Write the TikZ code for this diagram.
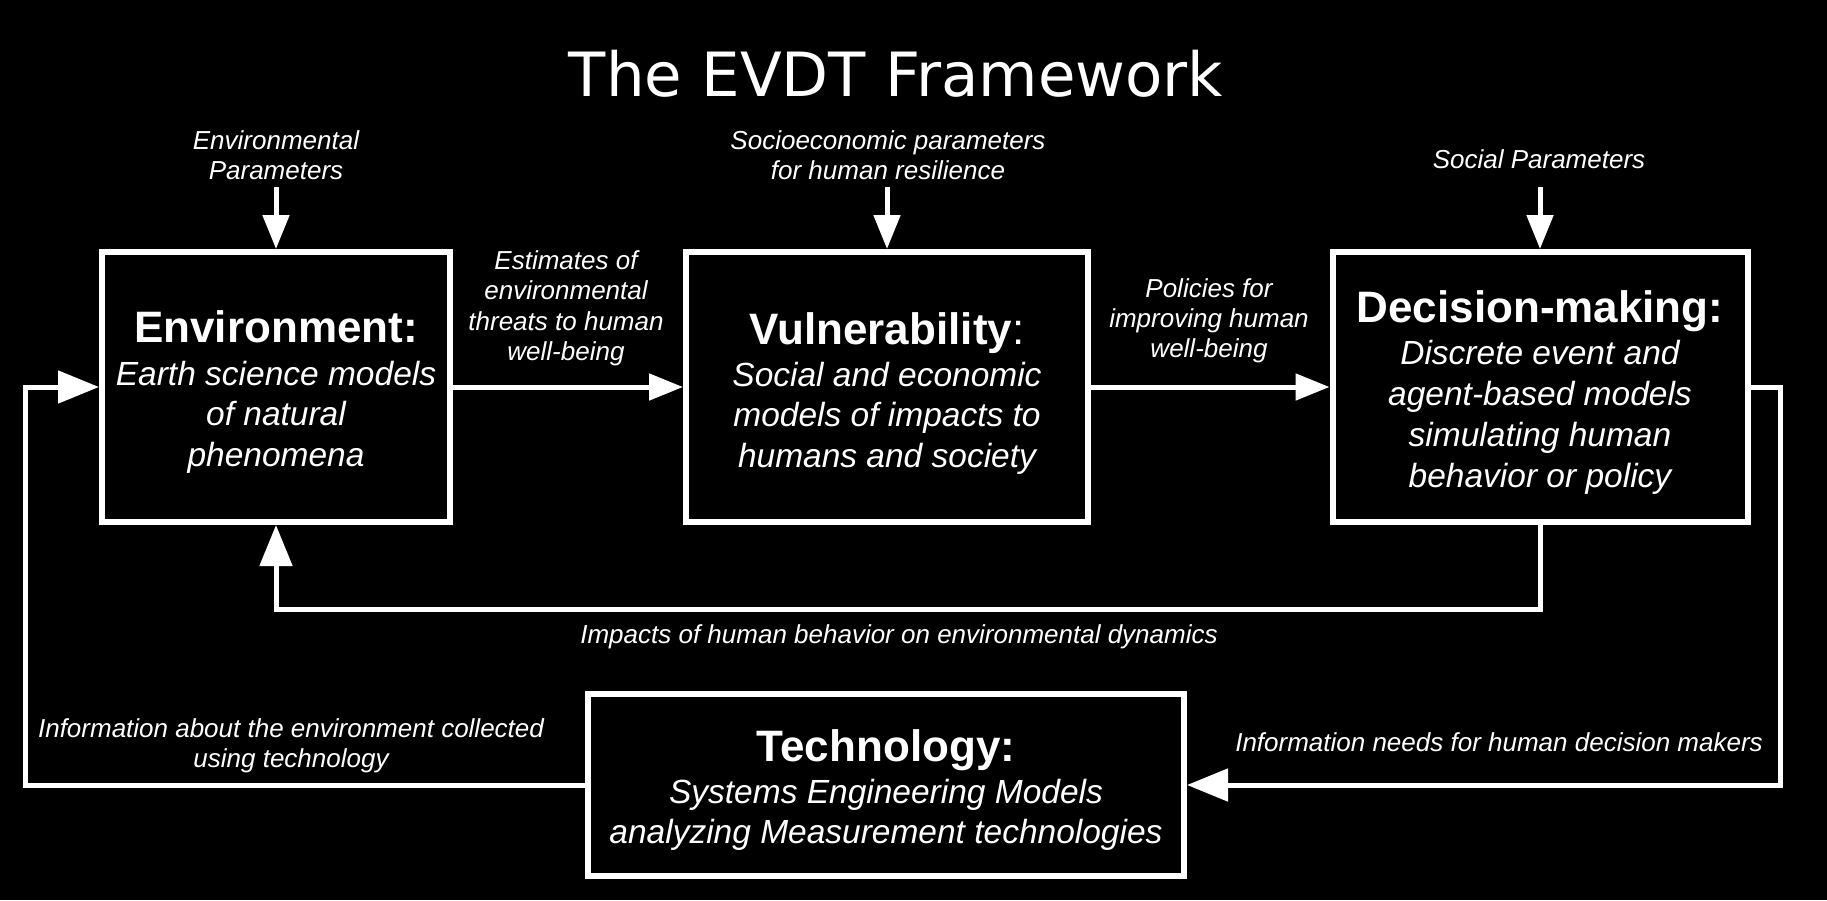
\documentclass[tikz,border=0pt]{standalone}
\usepackage{fontspec}
\setmainfont{Liberation Sans}
\newfontfamily\titlefont{DejaVu Sans}
\usetikzlibrary{arrows.meta}
\begin{document}
\begin{tikzpicture}[x=1pt,y=-1pt,
  box/.style={draw=white, line width=6pt, fill=black, inner sep=0pt},
  lbl/.style={text=white, font=\fontsize{26}{30}\selectfont\itshape, anchor=base, inner sep=0pt},
  body/.style={text=white, font=\fontsize{33.5}{40}\selectfont\itshape, anchor=base, inner sep=0pt},
  head/.style={text=white, font=\fontsize{44}{50}\selectfont\bfseries, anchor=base, inner sep=0pt},
  conn/.style={draw=white, line width=5pt},
  smallhead/.style={-{Triangle[length=34pt,width=26pt]}},
  bighead/.style={-{Triangle[length=41pt,width=32pt]}}
]
\fill[black] (0,0) rectangle (1827,900);
\useasboundingbox (0,0) rectangle (1827,900);

% title
\node[text=white, font=\titlefont\fontsize{61}{70}\selectfont, anchor=base, inner sep=0pt] (title) at (896,96) {The EVDT Framework};

% boxes
\node[box, minimum width=348pt, minimum height=270pt] (env) at (276,387) {};
\node[box, minimum width=402pt, minimum height=270pt] (vul) at (887,387) {};
\node[box, minimum width=415pt, minimum height=270pt] (dec) at (1540,387) {};
\node[box, minimum width=596pt, minimum height=182pt] (tech) at (886,785) {};

% box texts
\node[head] (envH) at (276,342) {Environment:};
\node[body] (envB1) at (276,385) {Earth science models};
\node[body] (envB2) at (276,425.5) {of natural};
\node[body] (envB3) at (276,466) {phenomena};

\node[head] (vulH) at (887,344) {Vulnerability{\mdseries:}};
\node[body] (vulB1) at (887,386) {Social and economic};
\node[body] (vulB2) at (887,426.5) {models of impacts to};
\node[body] (vulB3) at (887,467) {humans and society};

\node[head] (decH) at (1540,322) {Decision-making:};
\node[body] (decB1) at (1540,364.5) {Discrete event and};
\node[body] (decB2) at (1540,405.5) {agent-based models};
\node[body] (decB3) at (1540,446.5) {simulating human};
\node[body] (decB4) at (1540,487) {behavior or policy};

\node[head] (techH) at (886,761) {Technology:};
\node[body] (techB1) at (886,803) {Systems Engineering Models};
\node[body] (techB2) at (886,843) {analyzing Measurement technologies};

% labels
\node[lbl] (ep1) at (276,149) {Environmental};
\node[lbl] (ep2) at (276,179) {Parameters};
\node[lbl] (sp1) at (888,149) {Socioeconomic parameters};
\node[lbl] (sp2) at (888,179) {for human resilience};
\node[lbl] (socp) at (1539,168) {Social Parameters};
\node[lbl] (es1) at (566,269) {Estimates of};
\node[lbl] (es2) at (566,299.5) {environmental};
\node[lbl] (es3) at (566,330) {threats to human};
\node[lbl] (es4) at (566,360.5) {well-being};
\node[lbl] (po1) at (1209,297) {Policies for};
\node[lbl] (po2) at (1209,327) {improving human};
\node[lbl] (po3) at (1209,357) {well-being};
\node[lbl] (imp) at (899,643) {Impacts of human behavior on environmental dynamics};
\node[lbl] (ia1) at (291,737) {Information about the environment collected};
\node[lbl] (ia2) at (291,767) {using technology};
\node[lbl] (in1) at (1499,751) {Information needs for human decision makers};

% connectors
\coordinate (epTop) at (276,187);
\coordinate (spTop) at (887,187);
\coordinate (socTop) at (1540,187);
\draw[conn,smallhead] (epTop) -- (env.north);
\draw[conn,smallhead] (spTop) -- (vul.north);
\draw[conn,smallhead] (socTop) -- (dec.north);
\draw[conn,smallhead] (env.east) -- (vul.west);
\draw[conn,smallhead] (vul.east) -- (dec.west);

\coordinate (fbR) at (1540,609);
\coordinate (fbL) at (276,609);
\draw[conn,bighead] (dec.south) -- (fbR) -- (fbL) -- (env.south);

\coordinate (rlTop) at (1780,387);
\coordinate (rlBot) at (1780,785);
\draw[conn,bighead] (dec.east) -- (rlTop) -- (rlBot) -- (tech.east);

\coordinate (llBot) at (25,785);
\coordinate (llTop) at (25,387);
\draw[conn,bighead] (tech.west) -- (llBot) -- (llTop) -- (env.west);
\end{tikzpicture}
\end{document}
